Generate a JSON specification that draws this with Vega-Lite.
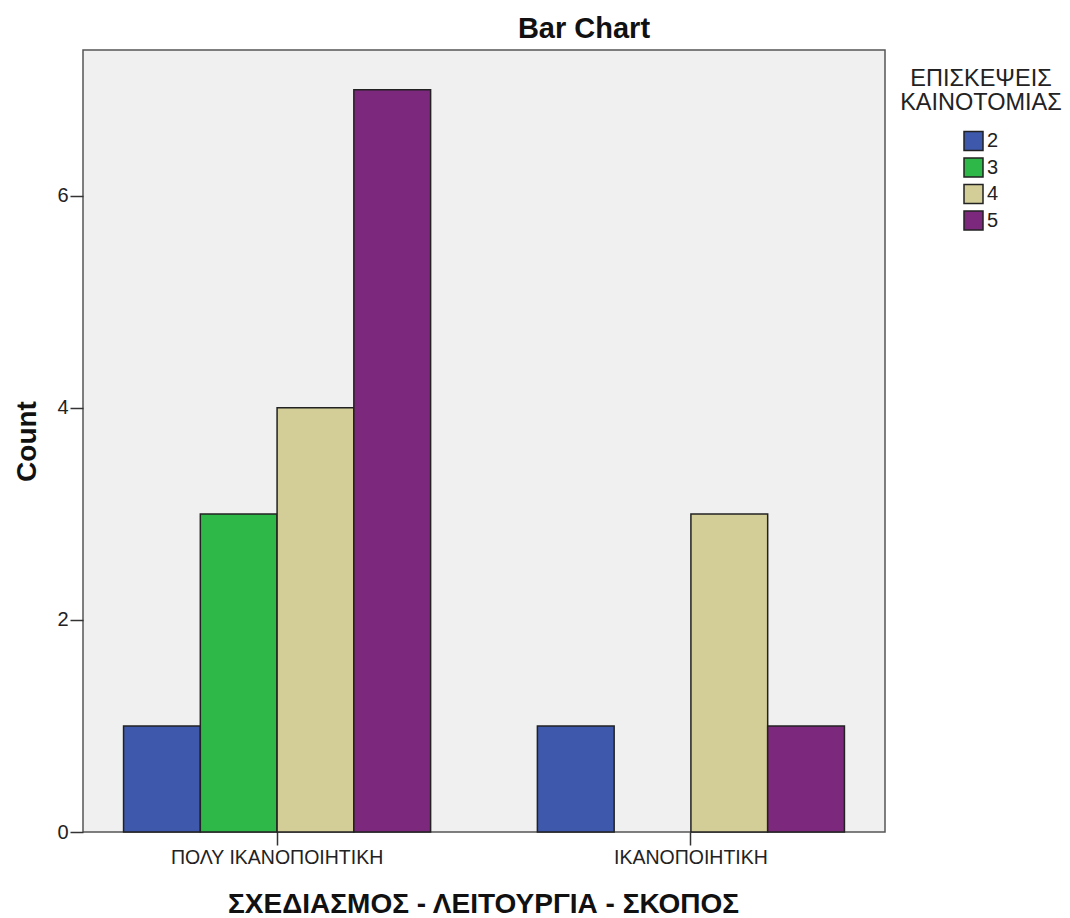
{
  "$schema": "https://vega.github.io/schema/vega-lite/v6.json",
  "width": 802,
  "height": 782,
  "autosize": {"type": "none"},
  "padding": {"left": 83, "top": 50, "right": 185, "bottom": 86},
  "background": "white",
  "config": {
    "font": "Liberation Sans",
    "view": {"fill": "#F0F0F0", "stroke": "#555555", "strokeWidth": 1.5}
  },
  "title": {
    "text": "Bar Chart",
    "fontSize": 29,
    "fontWeight": "bold",
    "color": "#111111",
    "anchor": "middle",
    "dx": 100,
    "dy": 30,
    "baseline": "alphabetic",
    "offset": 13
  },
  "data": {
    "values": [
      {"design": "ΠΟΛΥ ΙΚΑΝΟΠΟΙΗΤΙΚΗ", "visits": "2", "count": 1},
      {"design": "ΠΟΛΥ ΙΚΑΝΟΠΟΙΗΤΙΚΗ", "visits": "3", "count": 3},
      {"design": "ΠΟΛΥ ΙΚΑΝΟΠΟΙΗΤΙΚΗ", "visits": "4", "count": 4},
      {"design": "ΠΟΛΥ ΙΚΑΝΟΠΟΙΗΤΙΚΗ", "visits": "5", "count": 7},
      {"design": "ΙΚΑΝΟΠΟΙΗΤΙΚΗ", "visits": "2", "count": 1},
      {"design": "ΙΚΑΝΟΠΟΙΗΤΙΚΗ", "visits": "4", "count": 3},
      {"design": "ΙΚΑΝΟΠΟΙΗΤΙΚΗ", "visits": "5", "count": 1}
    ]
  },
  "mark": {"type": "bar", "stroke": "#222222", "strokeWidth": 1.5},
  "encoding": {
    "x": {
      "field": "design",
      "type": "nominal",
      "sort": ["ΠΟΛΥ ΙΚΑΝΟΠΟΙΗΤΙΚΗ", "ΙΚΑΝΟΠΟΙΗΤΙΚΗ"],
      "scale": {"paddingInner": 0.258, "paddingOuter": 0.098},
      "axis": {
        "title": "ΣΧΕΔΙΑΣΜΟΣ - ΛΕΙΤΟΥΡΓΙΑ - ΣΚΟΠΟΣ",
        "titleFontSize": 28,
        "titleFontWeight": "bold",
        "titleColor": "#111111",
        "titleBaseline": "alphabetic",
        "titleX": 400,
        "titleY": 80,
        "labelAngle": 0,
        "labelFontSize": 19.5,
        "labelLimit": 400,
        "labelColor": "#222222",
        "labelPadding": 3.4,
        "tickSize": 13,
        "tickColor": "#333333",
        "tickWidth": 1.5,
        "domain": false,
        "grid": false
      }
    },
    "xOffset": {
      "field": "visits",
      "type": "nominal",
      "scale": {"domain": ["2", "3", "4", "5"], "paddingInner": 0, "paddingOuter": 0}
    },
    "y": {
      "field": "count",
      "type": "quantitative",
      "scale": {"domain": [0, 7.375], "nice": false},
      "axis": {
        "title": "Count",
        "titleFontSize": 28,
        "titleFontWeight": "bold",
        "titleColor": "#111111",
        "titleBaseline": "alphabetic",
        "titleAngle": 270,
        "titleX": -48,
        "titleY": 391,
        "values": [0, 2, 4, 6],
        "labelFontSize": 20,
        "labelColor": "#222222",
        "labelPadding": 2,
        "tickSize": 13,
        "tickColor": "#333333",
        "tickWidth": 1.5,
        "domain": false,
        "grid": false
      }
    },
    "fill": {
      "field": "visits",
      "type": "nominal",
      "scale": {"domain": ["2", "3", "4", "5"], "range": ["#3E58AC", "#2EB848", "#D3CE97", "#7C287D"]},
      "legend": {
        "title": ["ΕΠΙΣΚΕΨΕΙΣ", "ΚΑΙΝΟΤΟΜΙΑΣ"],
        "orient": "none",
        "legendX": 817,
        "legendY": 17,
        "padding": 0,
        "titleFontSize": 23.5,
        "titleFontWeight": "normal",
        "titleColor": "#222222",
        "titleLineHeight": 24,
        "titleAnchor": "middle",
        "titleAlign": "center",
        "titlePadding": 16,
        "symbolType": "square",
        "symbolSize": 361,
        "symbolStrokeColor": "#222222",
        "symbolStrokeWidth": 1.5,
        "labelFontSize": 20,
        "labelColor": "#222222",
        "labelOffset": 3,
        "rowPadding": 1.5
      }
    }
  }
}
